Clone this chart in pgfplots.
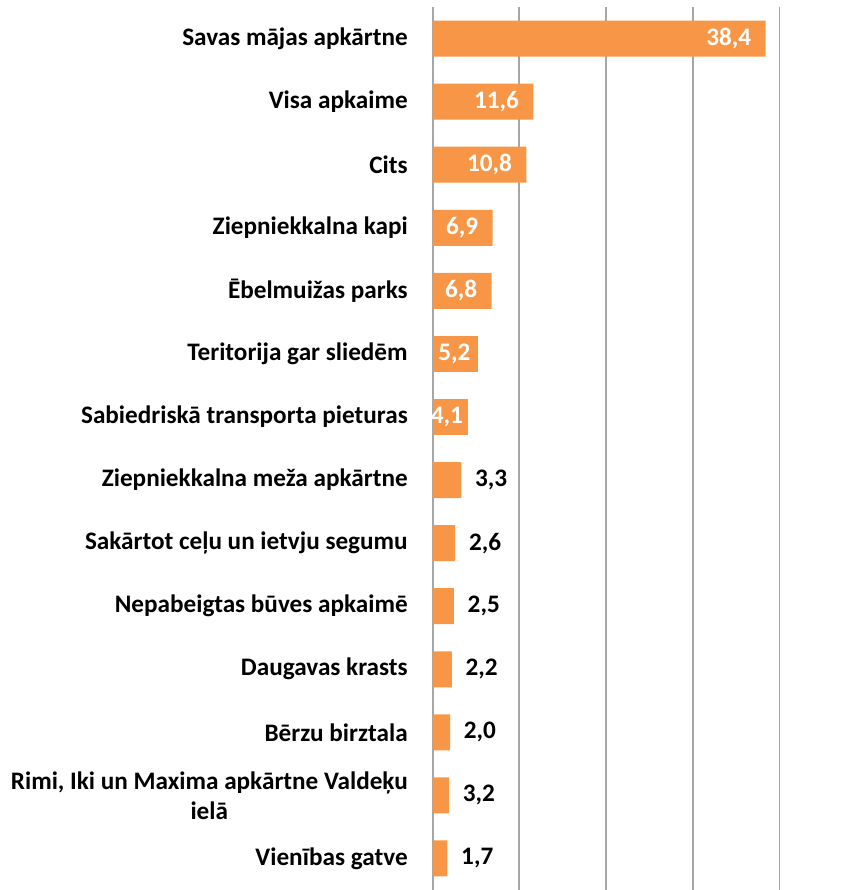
\documentclass[border=0pt]{standalone}
\usepackage{fontspec}
\setmainfont{Carlito}
\usepackage{pgfplots}
\pgfplotsset{compat=1.18}
\definecolor{barorange}{HTML}{F79646}
\definecolor{gridgray}{HTML}{A6A6A6}
\newcommand{\lblfont}{\bfseries\fontsize{12.6}{15}\selectfont}
\begin{document}
\begin{tikzpicture}
\begin{axis}[
  at={(0,0)}, anchor=south west,
  scale only axis, width=212pt, height=441.5pt,
  xbar, bar width=18pt, bar shift=0pt,
  xmin=0, xmax=48.9,
  y dir=reverse, ymin=-0.5, ymax=13.5,
  ytick={0,...,13},
  yticklabels={Savas mājas apkārtne, Visa apkaime, Cits, Ziepniekkalna kapi,
    Ēbelmuižas parks, Teritorija gar sliedēm, Sabiedriskā transporta pieturas,
    Ziepniekkalna meža apkārtne, Sakārtot ceļu un ietvju segumu,
    Nepabeigtas būves apkaimē, Daugavas krasts, Bērzu birztala,
    {Rimi, Iki un Maxima apkārtne Valdeķu\\ielā}, Vienības gatve},
  xtick={0,10,20,30,40}, xticklabels={},
  xmajorgrids, grid style={gridgray, line width=0.9pt},
  axis line style={draw=none},
  major tick length=0pt,
  yticklabel style={font=\lblfont, align=center, inner sep=0pt, xshift=-12.3pt},
  point meta=explicit symbolic,
  nodes near coords,
  every node near coord/.append style={font=\lblfont, inner sep=0pt},
]
% labels inside the bar end, white
\addplot[fill=barorange, draw=none,
  every node near coord/.append style={white, anchor=east, xshift=-7pt}]
  coordinates {(38.4,0) [38,4] (11.6,1) [11,6] (10.8,2) [10,8] (6.9,3) [6,9] (6.8,4) [6,8]};
\addplot[fill=barorange, draw=none,
  every node near coord/.append style={white, anchor=east, xshift=-3.5pt}]
  coordinates {(5.2,5) [5,2]};
\addplot[fill=barorange, draw=none,
  every node near coord/.append style={white, anchor=east, xshift=-2.5pt}]
  coordinates {(4.1,6) [4,1]};
% labels outside the bar end, black
\addplot[fill=barorange, draw=none,
  every node near coord/.append style={black, anchor=west, xshift=6.7pt}]
  coordinates {(3.3,7) [3,3] (2.6,8) [2,6] (2.45,9) [2,5] (2.2,10) [2,2]
    (2.0,11) [2,0] (1.9,12) [3,2] (1.7,13) [1,7]};
\end{axis}
\pgfresetboundingbox
\path (-216.35pt,0) rectangle (212pt,445pt);
\end{tikzpicture}
\end{document}
